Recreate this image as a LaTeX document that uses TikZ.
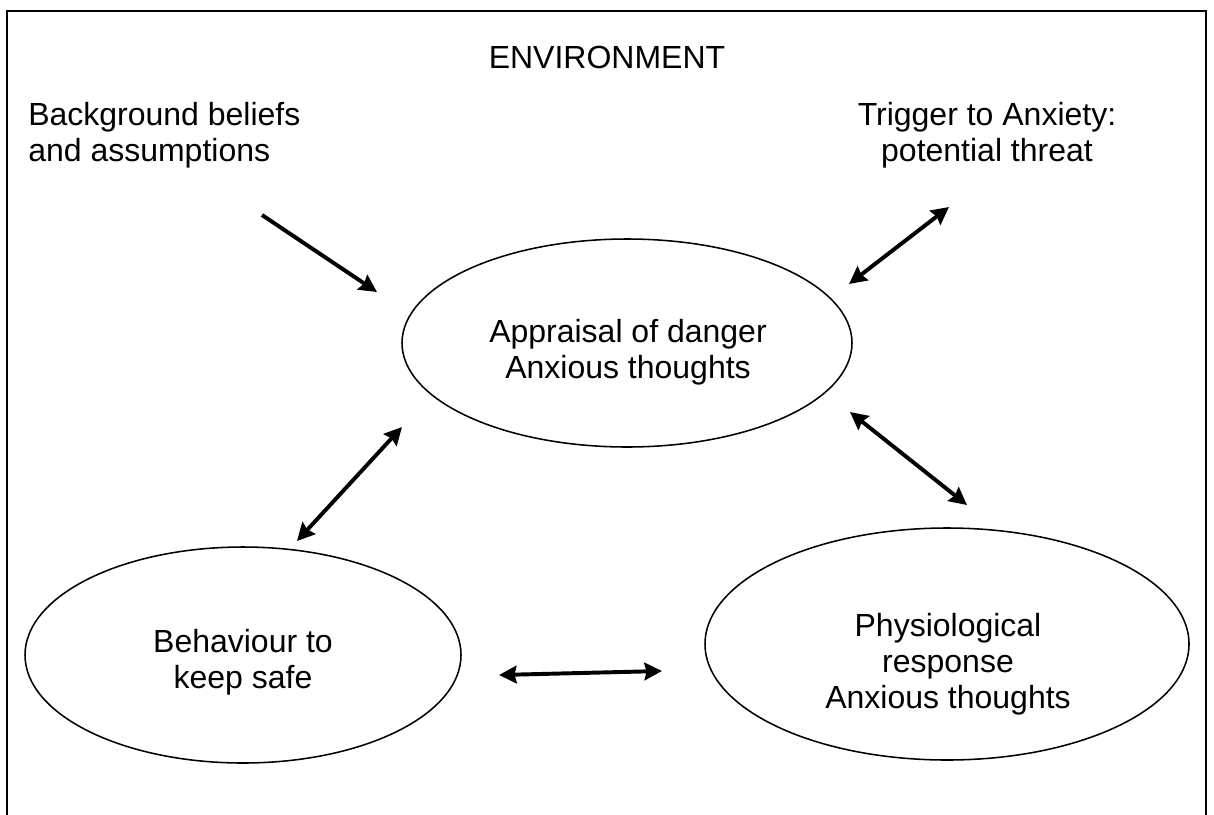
\documentclass[tikz,border=0pt]{standalone}
\usepackage{fontspec}
\setmainfont{Liberation Sans}
\usepackage{tikz}
\usetikzlibrary{arrows.meta,shapes.geometric}

\tikzset{
  bubble/.style={draw,ellipse,line width=1.1pt,inner sep=0pt},
  txt/.style={inner sep=0pt,align=center,font=\fontsize{22.76}{25.6}\selectfont},
  link/.style={line width=2.8pt,-{Stealth[length=12.5pt,width=12.5pt,inset=1.5pt]}},
  twoway/.style={line width=2.8pt,{Stealth[length=12.5pt,width=12.5pt,inset=1.5pt]}-{Stealth[length=12.5pt,width=12.5pt,inset=1.5pt]}}
}

\begin{document}
\begin{tikzpicture}
\useasboundingbox (0,0) rectangle (30.35,-20.35);

% Frame (open at the bottom)
\draw[line width=1.4pt] (0.175,-20.5) -- (0.175,-0.275) -- (30.15,-0.275) -- (30.15,-20.5);

% Labels
\node[txt] (env) at (15.175,-1.425) {ENVIRONMENT};
\node[txt,align=left,anchor=north west] (beliefs) at (0.7,-2.5625) {Background beliefs\\and assumptions};
\node[txt,anchor=north] (trigger) at (24.675,-2.55) {Trigger to Anxiety:\\potential threat};

% Ellipses
\node[bubble,minimum width=11.25cm,minimum height=5.2cm] (appraisal) at (15.675,-8.575) {};
\node[bubble,minimum width=10.9cm,minimum height=5.4cm] (behaviour) at (6.075,-16.375) {};
\node[bubble,minimum width=12.1cm,minimum height=5.8cm] (physio) at (23.675,-16.1) {};

\node[txt,anchor=north] (appraisaltxt) at (15.7,-7.9875) {Appraisal of danger\\Anxious thoughts};
\node[txt,anchor=north] (behaviourtxt) at (6.075,-15.7375) {Behaviour to\\keep safe};
\node[txt,anchor=north] (physiotxt) at (23.7,-15.3375) {Physiological\\response\\Anxious thoughts};

% Arrow ends
\coordinate (b1) at (6.55,-5.375);
\coordinate (b2) at (9.425,-7.3);
\coordinate (t1) at (21.225,-7.1);
\coordinate (t2) at (23.725,-5.175);
\coordinate (p1) at (21.25,-10.3);
\coordinate (p2) at (24.175,-12.625);
\coordinate (k1) at (10.05,-10.675);
\coordinate (k2) at (7.425,-13.525);
\coordinate (h1) at (12.475,-16.875);
\coordinate (h2) at (16.55,-16.775);

% Arrows
\draw[link] (b1) -- (b2);
\draw[twoway] (t1) -- (t2);
\draw[twoway] (p1) -- (p2);
\draw[twoway] (k1) -- (k2);
\draw[twoway] (h1) -- (h2);
\end{tikzpicture}
\end{document}
